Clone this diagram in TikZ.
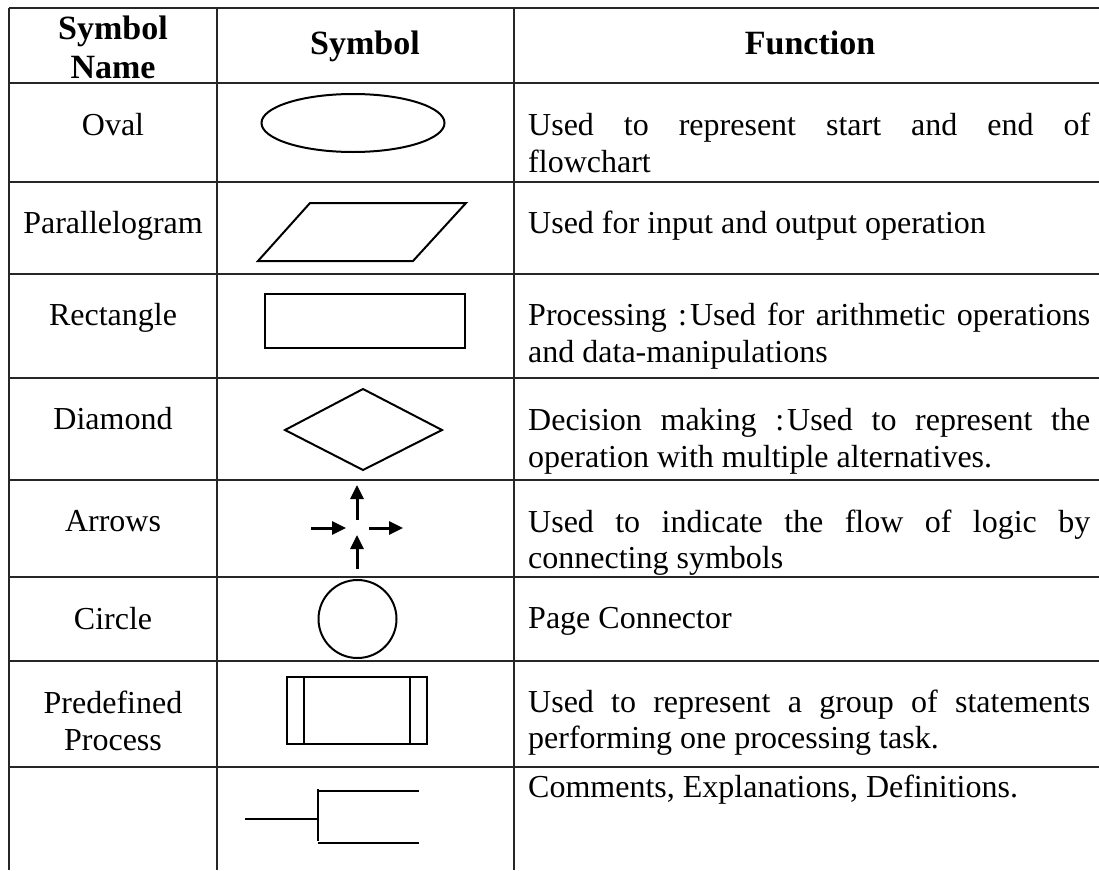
\documentclass[tikz,border=0pt]{standalone}
\usepackage{fontspec}
\setmainfont{Liberation Serif}
\usetikzlibrary{arrows.meta}
\begin{document}
\begin{tikzpicture}[x=1pt,y=-1pt,
  gridline/.style={line width=1.8pt, draw=black!85},
  symline/.style={line width=2pt, draw=black},
  flowarrow/.style={line width=3pt, -{Triangle[length=14pt,width=13pt]}},
  body/.style={inner sep=0pt, font=\fontsize{32}{37}\selectfont},
  headtxt/.style={inner sep=0pt, font=\fontsize{34}{39}\selectfont\bfseries},
]
\useasboundingbox (0,0) rectangle (1099,870);

% table rules
\foreach \yy in {8,83,182,274,378,480,577,661,767}
  \draw[gridline] (9,\yy) -- (1099,\yy);
\foreach \xx in {9,217,514}
  \draw[gridline] (\xx,8) -- (\xx,870);

% header row
\node[headtxt, anchor=base] (h-name1) at (113,39) {Symbol};
\node[headtxt, anchor=base] (h-name2) at (113,78) {Name};
\node[headtxt, anchor=base] (h-sym)   at (365,54) {Symbol};
\node[headtxt, anchor=base] (h-fun)   at (810,54) {Function};

% symbol names
\node[body, anchor=base] (n-oval)  at (113,135) {Oval};
\node[body, anchor=base] (n-para)  at (113,233) {Parallelogram};
\node[body, anchor=base] (n-rect)  at (113,325) {Rectangle};
\node[body, anchor=base] (n-diam)  at (113,429) {Diamond};
\node[body, anchor=base] (n-arr)   at (113,531) {Arrows};
\node[body, anchor=base] (n-circ)  at (113,629) {Circle};
\node[body, anchor=base] (n-pre1)  at (113,713) {Predefined};
\node[body, anchor=base] (n-pre2)  at (113,750) {Process};

% symbols
\draw[symline] (353,123) ellipse [x radius=91.5pt, y radius=29pt];
\draw[symline] (258,261) -- (310,203) -- (466,203) -- (413,261) -- cycle;
\draw[symline] (265,294) rectangle (465,348);
\draw[symline] (285,430) -- (363,389) -- (442,430) -- (363,470) -- cycle;

\coordinate (up1a) at (357,520); \coordinate (up1b) at (357,485);
\coordinate (lfa)  at (311,528); \coordinate (lfb)  at (346,528);
\coordinate (rta)  at (369,528); \coordinate (rtb)  at (403,528);
\coordinate (up2a) at (357,569); \coordinate (up2b) at (357,535);
\draw[flowarrow] (up1a) -- (up1b);
\draw[flowarrow] (lfa) -- (lfb);
\draw[flowarrow] (rta) -- (rtb);
\draw[flowarrow] (up2a) -- (up2b);

\draw[symline] (357.5,619) circle [radius=39pt];

\draw[symline] (287,677) rectangle (427,744);
\draw[symline] (304,677) -- (304,744);
\draw[symline] (410,677) -- (410,744);

\draw[symline] (245,819) -- (318,819);
\draw[symline] (318,789) -- (318,841);
\draw[symline] (318,791) -- (419,791);
\draw[symline] (318,843) -- (419,843);

% function descriptions
\node[body, anchor=base west] (f-oval1) at (528,135) {\makebox[562pt][s]{Used to represent start and end of}};
\node[body, anchor=base west] (f-oval2) at (528,172) {flowchart};
\node[body, anchor=base west] (f-para)  at (528,233) {Used for input and output operation};
\node[body, anchor=base west] (f-rect1) at (528,325) {\makebox[562pt][s]{Processing :\kern3pt Used for arithmetic operations}};
\node[body, anchor=base west] (f-rect2) at (528,362) {and data-manipulations};
\node[body, anchor=base west] (f-diam1) at (528,430) {\makebox[562pt][s]{Decision making :\kern3pt Used to represent the}};
\node[body, anchor=base west] (f-diam2) at (528,467) {operation with multiple alternatives.};
\node[body, anchor=base west] (f-arr1)  at (528,532) {\makebox[562pt][s]{Used to indicate the flow of logic by}};
\node[body, anchor=base west] (f-arr2)  at (528,568) {connecting symbols};
\node[body, anchor=base west] (f-circ)  at (528,628) {Page Connector};
\node[body, anchor=base west] (f-pre1)  at (528,712) {\makebox[562pt][s]{Used to represent a group of statements}};
\node[body, anchor=base west] (f-pre2)  at (528,748) {performing one processing task.};
\node[body, anchor=base west] (f-com)   at (528,797) {Comments, Explanations, Definitions.};
\end{tikzpicture}
\end{document}
